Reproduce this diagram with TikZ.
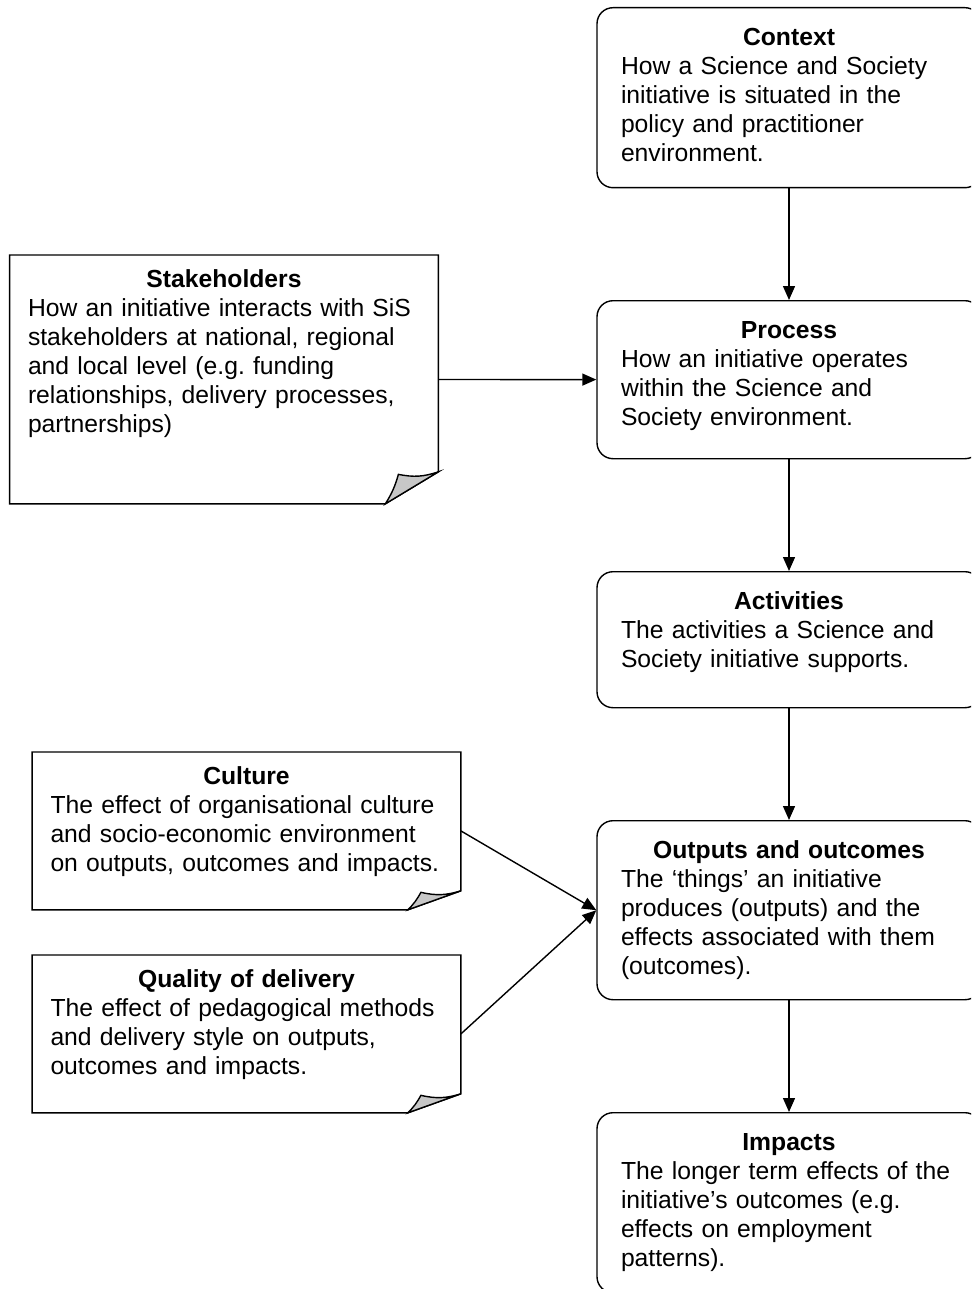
\documentclass[tikz,border=0pt]{standalone}
\usepackage{fontspec}
\setmainfont{Liberation Sans}
\usetikzlibrary{arrows.meta}
\frenchspacing

% outline of a note with a folded bottom right corner
\newcommand{\dogear}[2]{%
  \draw[notedraw] (#1.north west) -- (#1.north east) -- ([yshift=#2]#1.south east)
    -- ([xshift=-26.5pt]#1.south east) -- (#1.south west) -- cycle;
  \filldraw[folddraw] ([yshift=#2]#1.south east) to[bend left=15] ([xshift=-20pt,yshift=0.92*#2]#1.south east)
    to[bend left=8] ([xshift=-26.5pt]#1.south east) -- cycle;
}

\begin{document}
\begin{tikzpicture}[
    x=0.5pt, y=-0.5pt,
    stage/.style={
        rectangle,
        rounded corners=8pt,
        draw=black,
        line width=0.7pt,
        text width=168pt,
        inner xsep=12pt,
        inner ysep=10pt,
        text height=9pt,
        align=left,
        anchor=north,
        font=\fontsize{12.35}{14.5}\selectfont
    },
    note/.style={
        rectangle,
        text width=196pt,
        inner xsep=9pt,
        inner ysep=7pt,
        text height=9pt,
        align=left,
        anchor=north,
        font=\fontsize{12.35}{14.5}\selectfont
    },
    notedraw/.style={
        draw=black,
        line width=0.7pt
    },
    folddraw/.style={
        draw=black,
        fill=black!22,
        line width=0.7pt
    },
    arrow/.style={
        line width=0.7pt,
        -{Triangle[length=7pt,width=6pt]}
    }
]
\useasboundingbox (0,0) rectangle (971,1289);
\clip (0,0) rectangle (971,1289);

% Etapele principale
\node[stage, text depth=61pt] (context) at (789,7) {
    \makebox[\linewidth]{\bfseries Context}\\
    How a Science and Society\\
    initiative is situated in the\\
    policy and practitioner\\
    environment.
};

\node[stage, text depth=50pt] (process) at (789,300) {
    \makebox[\linewidth]{\bfseries Process}\\
    How an initiative operates\\
    within the Science and\\
    Society environment.
};

\node[stage, text depth=39pt] (activities) at (789,571) {
    \makebox[\linewidth]{\bfseries Activities}\\
    The activities a Science and\\
    Society initiative supports.
};

\node[stage, text depth=60.5pt] (outputs) at (789,820) {
    \makebox[\linewidth]{\bfseries Outputs and outcomes}\\
    The ‘things’ an initiative\\
    produces (outputs) and the\\
    effects associated with them\\
    (outcomes).
};

\node[stage, text depth=61pt] (impacts) at (789,1112) {
    \makebox[\linewidth]{\bfseries Impacts}\\
    The longer term effects of the\\
    initiative’s outcomes (e.g.\\
    effects on employment\\
    patterns).
};

% Notitele din stanga
\node[note, text depth=101pt] (stakeholders) at (224,255) {
    \makebox[\linewidth]{\bfseries Stakeholders}\\
    How an initiative interacts with SiS\\
    stakeholders at national, regional\\
    and local level (e.g. funding\\
    relationships, delivery processes,\\
    partnerships)
};
\dogear{stakeholders}{16pt}

\node[note, text depth=55.5pt] (culture) at (246.5,752) {
    \makebox[\linewidth]{\bfseries Culture}\\
    The effect of organisational culture\\
    and socio-economic environment\\
    on outputs, outcomes and impacts.
};
\dogear{culture}{9.5pt}

\node[note, text depth=55.5pt] (quality) at (246.5,955) {
    \makebox[\linewidth]{\bfseries Quality of delivery}\\
    The effect of pedagogical methods\\
    and delivery style on outputs,\\
    outcomes and impacts.
};
\dogear{quality}{9.5pt}

% Sagetile
\draw[arrow] (context) -- (process);
\draw[arrow] (process) -- (activities);
\draw[arrow] (activities) -- (outputs);
\draw[arrow] (outputs) -- (impacts);
\draw[arrow] (stakeholders) -- (process);
\draw[arrow] (culture.east) -- (outputs.west);
\draw[arrow] (quality.east) -- (outputs.west);

\end{tikzpicture}
\end{document}
